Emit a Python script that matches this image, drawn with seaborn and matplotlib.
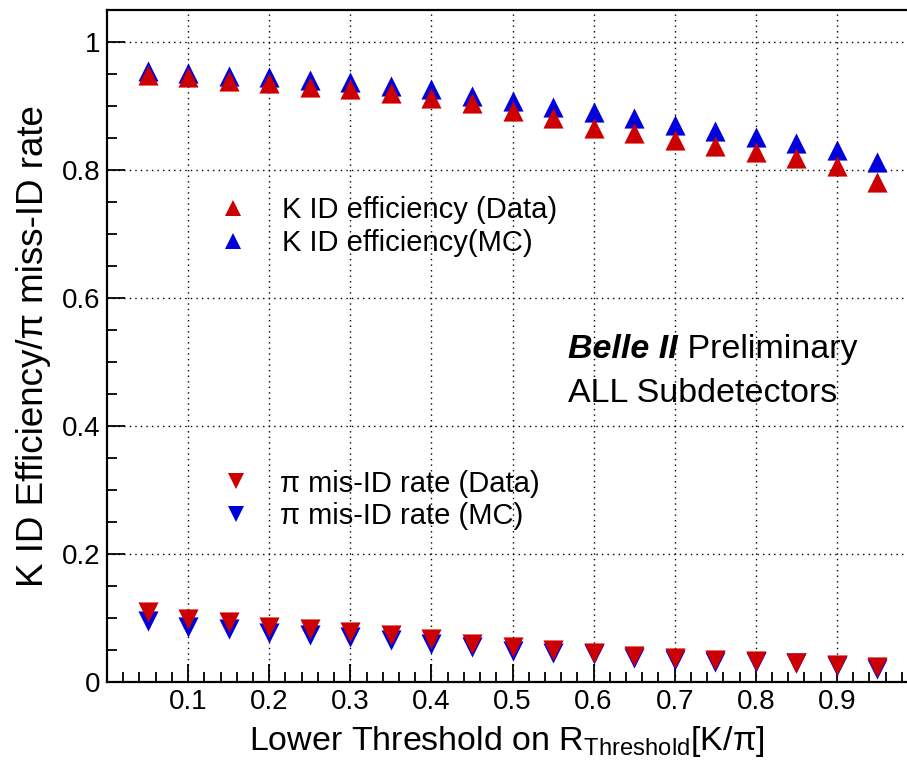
import matplotlib
matplotlib.use("Agg")
import matplotlib.pyplot as plt
from matplotlib.lines import Line2D
from matplotlib.ticker import MultipleLocator, FixedLocator
import seaborn as sns
import pandas as pd

# Lower threshold on the K/pi likelihood ratio
thresholds = [0.05, 0.10, 0.15, 0.20, 0.25, 0.30, 0.35, 0.40, 0.45, 0.50,
              0.55, 0.60, 0.65, 0.70, 0.75, 0.80, 0.85, 0.90, 0.95]

# Kaon identification efficiency
k_eff_data = [0.949, 0.945, 0.939, 0.936, 0.930, 0.927, 0.920, 0.913, 0.905, 0.892,
              0.881, 0.866, 0.858, 0.847, 0.838, 0.828, 0.818, 0.807, 0.782]
k_eff_mc = [0.955, 0.952, 0.947, 0.945, 0.941, 0.937, 0.931, 0.927, 0.916, 0.908,
            0.899, 0.890, 0.881, 0.871, 0.861, 0.851, 0.842, 0.832, 0.813]

# Pion mis-identification rate
pi_misid_data = [0.109, 0.099, 0.093, 0.086, 0.083, 0.078, 0.073, 0.067, 0.060, 0.054,
                 0.050, 0.045, 0.040, 0.037, 0.034, 0.033, 0.030, 0.027, 0.023]
pi_misid_mc = [0.096, 0.086, 0.083, 0.076, 0.073, 0.070, 0.065, 0.060, 0.054, 0.049,
               0.046, 0.043, 0.038, 0.035, 0.032, 0.031, 0.029, 0.025, 0.021]

x_ticks = [0.1, 0.2, 0.3, 0.4, 0.5, 0.6, 0.7, 0.8, 0.9]
x_tick_labels = ["0.1", "0.2", "0.3", "0.4", "0.5", "0.6", "0.7", "0.8", "0.9"]
y_ticks = [0.0, 0.2, 0.4, 0.6, 0.8, 1.0]
y_tick_labels = ["0", "0.2", "0.4", "0.6", "0.8", "1"]

legend_eff = ["K ID efficiency (Data)", "K ID efficiency(MC)"]
legend_misid = ["π mis-ID rate (Data)", "π mis-ID rate (MC)"]

RED = "#cc0000"
BLUE = "#0000dd"

sns.set_style("ticks")
plt.rcParams["font.family"] = ["Liberation Sans", "DejaVu Sans"]
plt.rcParams["mathtext.fontset"] = "custom"
plt.rcParams["mathtext.rm"] = "Liberation Sans"
plt.rcParams["mathtext.it"] = "Liberation Sans:italic"
plt.rcParams["text.color"] = "black"
plt.rcParams["axes.labelcolor"] = "black"
plt.rcParams["xtick.color"] = "black"
plt.rcParams["ytick.color"] = "black"

W, H = 907, 762
fig = plt.figure(figsize=(W / 100, H / 100), dpi=100)
fig.patch.set_facecolor("white")
ax = fig.add_axes([107 / W, 80 / H, 1 - 107 / W, 672 / H])
ax.set_facecolor("white")

df = pd.DataFrame({
    "threshold": thresholds,
    "eff_data": k_eff_data,
    "eff_mc": k_eff_mc,
    "misid_data": pi_misid_data,
    "misid_mc": pi_misid_mc,
})

size = 14.5 ** 2
# MC first so the data markers sit on top
sns.scatterplot(data=df, x="threshold", y="eff_mc", marker="^", s=size,
                color=BLUE, linewidth=0, ax=ax, zorder=3)
sns.scatterplot(data=df, x="threshold", y="eff_data", marker="^", s=size,
                color=RED, linewidth=0, ax=ax, zorder=4)
sns.scatterplot(data=df, x="threshold", y="misid_mc", marker="v", s=size,
                color=BLUE, linewidth=0, ax=ax, zorder=3)
sns.scatterplot(data=df, x="threshold", y="misid_data", marker="v", s=size,
                color=RED, linewidth=0, ax=ax, zorder=4)

ax.set_xlim(0.0, 800 / 811)
ax.set_ylim(0.0, 1.05)

ax.xaxis.set_major_locator(FixedLocator(x_ticks))
ax.set_xticklabels(x_tick_labels)
ax.xaxis.set_minor_locator(MultipleLocator(0.02))
ax.yaxis.set_major_locator(FixedLocator(y_ticks))
ax.set_yticklabels(y_tick_labels)
ax.yaxis.set_minor_locator(MultipleLocator(0.05))

ax.tick_params(which="both", direction="in", top=False, right=False,
               colors="black", width=1.3)
ax.tick_params(which="major", length=13, labelsize=20, pad=5)
ax.tick_params(which="minor", length=7)

ax.set_axisbelow(True)
ax.grid(True, which="major", color="black", linestyle=(0, (1, 3)), linewidth=1.0)

for side in ["left", "bottom", "top"]:
    ax.spines[side].set_linewidth(1.6)
    ax.spines[side].set_color("black")
ax.spines["right"].set_visible(False)

ax.set_xlabel(r"Lower Threshold on R$_{\mathrm{Threshold}}$[K/π]", fontsize=24.5)
ax.xaxis.set_label_coords(0.5, -0.063)
ax.set_ylabel("K ID Efficiency/π miss-ID rate", fontsize=26.5)
ax.yaxis.set_label_coords(-0.07, 0.5)

fs = 21
up_handles = [
    Line2D([], [], marker="^", color=RED, linestyle="none", markersize=11, markeredgewidth=0),
    Line2D([], [], marker="^", color=BLUE, linestyle="none", markersize=11, markeredgewidth=0),
]
down_handles = [
    Line2D([], [], marker="v", color=RED, linestyle="none", markersize=11, markeredgewidth=0),
    Line2D([], [], marker="v", color=BLUE, linestyle="none", markersize=11, markeredgewidth=0),
]
leg1 = ax.legend(up_handles, legend_eff, loc="upper left",
                 bbox_to_anchor=(218.4 / W, 1 - 196.5 / H), bbox_transform=fig.transFigure,
                 frameon=False, fontsize=fs, handlelength=1.0, handletextpad=1.18,
                 labelspacing=0.17, borderpad=0, borderaxespad=0)
ax.add_artist(leg1)
ax.legend(down_handles, legend_misid, loc="upper left",
          bbox_to_anchor=(221.4 / W, 1 - 469.5 / H), bbox_transform=fig.transFigure,
          frameon=False, fontsize=fs, handlelength=1.0, handletextpad=1.0,
          labelspacing=0.17, borderpad=0, borderaxespad=0)

t1 = fig.text(568 / W, 1 - 350 / H, "Belle II", fontsize=24.5, fontweight="bold",
              style="italic", ha="left", va="center")
ax.annotate(" Preliminary", xy=(1, 0.5), xycoords=t1, fontsize=24.5,
            ha="left", va="center", annotation_clip=False)
fig.text(568 / W, 1 - 394 / H, "ALL Subdetectors", fontsize=24.5, ha="left", va="center")

fig.savefig("out.png", dpi=100, facecolor="white")
